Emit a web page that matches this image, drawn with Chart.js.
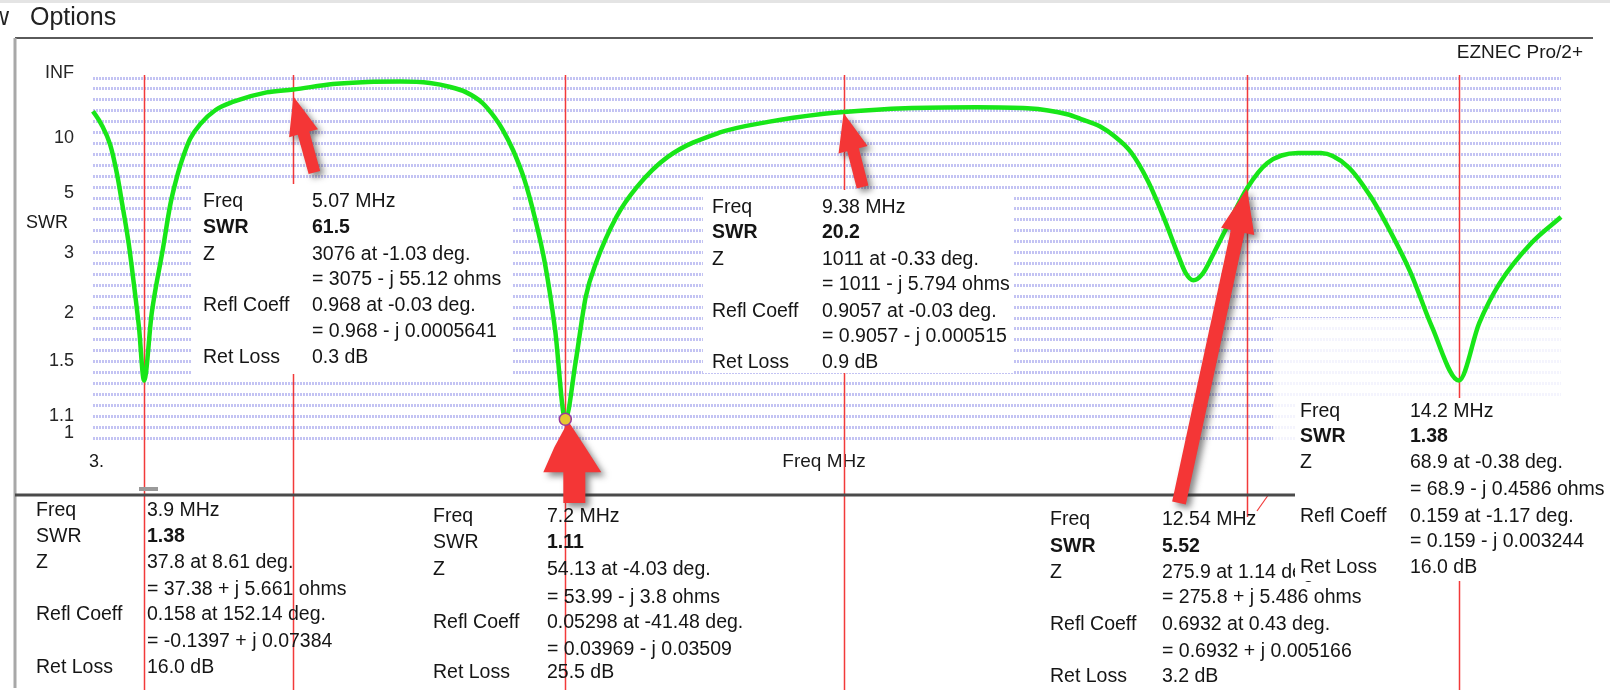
<!DOCTYPE html>
<html><head><meta charset="utf-8">
<script src="https://cdn.jsdelivr.net/npm/chart.js@4.4.1/dist/chart.umd.min.js"></script>
<style>html,body{margin:0;padding:0;background:#fff;overflow:hidden}canvas{display:block}</style>
</head><body>
<canvas id="c" width="1610" height="690"></canvas>
<script>
// ---- data ----
const freqMHz = [3.50,3.565,3.635,3.69,3.73,3.78,3.82,3.86,3.90,3.96,4.05,4.105,4.145,4.185,4.225,4.26,4.34,4.46,4.60,4.86,5.07,5.38,5.65,5.91,6.14,6.30,6.42,6.55,6.65,6.71,6.79,6.88,6.96,7.04,7.12,7.20,7.28,7.36,7.44,7.60,7.76,8.00,8.40,8.80,9.21,9.38,9.86,10.42,10.82,11.14,11.24,11.39,11.50,11.63,11.76,11.89,12.00,12.06,12.12,12.19,12.28,12.41,12.54,12.70,12.94,13.12,13.33,13.51,13.67,13.82,13.99,14.20,14.36,14.52,14.77,15.00];
const swr     = [20.7,14.6,9.75,6.4,4.67,3.34,2.50,1.89,1.38,2.06,3.26,4.67,5.86,7.28,9.0,10.8,14.6,21.5,29.4,49,61.5,117,179,200,141,79,50,28,17,12.9,9.0,6.07,4.18,2.89,1.86,1.11,1.53,2.29,2.89,4.18,5.6,8.1,12.1,15.5,19.0,20.2,22.8,23.6,22.8,18.7,16.5,13.85,11.4,8.73,6.06,4.14,3.07,2.69,2.56,2.67,3.11,4.07,5.52,7.47,8.6,8.6,7.13,5.06,3.64,2.71,1.89,1.38,1.94,2.51,3.37,4.18];
const swrTicks = [1, 1.1, 1.5, 2, 3, 5, 10, Infinity];
const swrTickLabels = ['1','1.1','1.5','2','3','5','10','INF'];
const markerFreqs = [3.9, 5.07, 7.2, 9.38, 12.54, 14.2];
const markerSwr = [1.38, 61.5, 1.11, 20.2, 5.52, 1.38];
const infoLabels = ['Freq','SWR','Z','','Refl Coeff','','Ret Loss'];
const info390  = ['3.9 MHz','1.38','37.8 at 8.61 deg.','= 37.38 + j 5.661 ohms','0.158 at 152.14 deg.','= -0.1397 + j 0.07384','16.0 dB'];
const info507  = ['5.07 MHz','61.5','3076 at -1.03 deg.','= 3075 - j 55.12 ohms','0.968 at -0.03 deg.','= 0.968 - j 0.0005641','0.3 dB'];
const info720  = ['7.2 MHz','1.11','54.13 at -4.03 deg.','= 53.99 - j 3.8 ohms','0.05298 at -41.48 deg.','= 0.03969 - j 0.03509','25.5 dB'];
const info938  = ['9.38 MHz','20.2','1011 at -0.33 deg.','= 1011 - j 5.794 ohms','0.9057 at -0.03 deg.','= 0.9057 - j 0.000515','0.9 dB'];
const info1254 = ['12.54 MHz','5.52','275.9 at 1.14 deg.','= 275.8 + j 5.486 ohms','0.6932 at 0.43 deg.','= 0.6932 + j 0.005166','3.2 dB'];
const info1420 = ['14.2 MHz','1.38','68.9 at -0.38 deg.','= 68.9 - j 0.4586 ohms','0.159 at -1.17 deg.','= 0.159 - j 0.003244','16.0 dB'];

function rho(s){ return s === Infinity ? 1 : (s - 1) / (s + 1); }

const FONT = '"Liberation Sans", Arial, sans-serif';
const RED = '#f23a3a';

function arrow(ctx, x1, y1, x2, y2, sw, hw, hl){
  const dx = x2 - x1, dy = y2 - y1, L = Math.hypot(dx, dy), ux = dx / L, uy = dy / L, px = -uy, py = ux;
  const bx = x2 - ux * hl, by = y2 - uy * hl;
  ctx.beginPath();
  ctx.moveTo(x1 + px * sw / 2, y1 + py * sw / 2);
  ctx.lineTo(bx + px * sw / 2, by + py * sw / 2);
  ctx.lineTo(bx + px * hw / 2, by + py * hw / 2);
  ctx.lineTo(x2, y2);
  ctx.lineTo(bx - px * hw / 2, by - py * hw / 2);
  ctx.lineTo(bx - px * sw / 2, by - py * sw / 2);
  ctx.lineTo(x1 - px * sw / 2, y1 - py * sw / 2);
  ctx.closePath();
  ctx.fill();
}

function infoBox(ctx, lx, vx, rows, values, boldLabel){
  ctx.textBaseline = 'middle';
  ctx.textAlign = 'left';
  ctx.fillStyle = '#151515';
  for (let i = 0; i < infoLabels.length; i++){
    ctx.font = (i === 1 && boldLabel ? 'bold ' : '') + '19.5px ' + FONT;
    if (infoLabels[i]) ctx.fillText(infoLabels[i], lx, rows[i]);
    ctx.font = (i === 1 ? 'bold ' : '') + '19.5px ' + FONT;
    ctx.fillText(values[i], vx, rows[i]);
  }
}

const deco = {
  id: 'deco',
  beforeDraw(chart){
    const ctx = chart.ctx;
    ctx.save();
    ctx.fillStyle = '#fff'; ctx.fillRect(0, 0, 1610, 690);
    ctx.fillStyle = '#e4e4e4'; ctx.fillRect(0, 0, 1610, 3);
    ctx.fillStyle = '#222'; ctx.font = '25px ' + FONT; ctx.textBaseline = 'alphabetic';
    ctx.fillText('w', -9, 25);
    ctx.fillText('Options', 30, 25);
    // frame
    ctx.strokeStyle = '#5a5a5a'; ctx.lineWidth = 2;
    ctx.beginPath(); ctx.moveTo(15, 38); ctx.lineTo(1593, 38); ctx.stroke();
    ctx.strokeStyle = '#a8a8a8'; ctx.lineWidth = 3;
    ctx.beginPath(); ctx.moveTo(15, 38); ctx.lineTo(15, 688); ctx.stroke();
    // texts
    ctx.fillStyle = '#1a1a1a'; ctx.textBaseline = 'middle';
    ctx.font = '19px ' + FONT; ctx.textAlign = 'right';
    ctx.fillText('EZNEC Pro/2+', 1583, 53);
    ctx.textAlign = 'center'; ctx.font = '18px ' + FONT;
    ctx.fillText('SWR', 47, 223);
    ctx.font = '19px ' + FONT;
    ctx.fillText('Freq MHz', 824, 462);
    ctx.textAlign = 'left'; ctx.font = '18px ' + FONT;
    ctx.fillText('3.', 89, 462);
    ctx.restore();
  },
  beforeDatasetsDraw(chart){
    const ctx = chart.ctx, xs = chart.scales.x;
    ctx.save();
    // faded grid region
    ctx.fillStyle = 'rgba(255,255,255,0.82)';
    ctx.fillRect(1273, 318, 290, 124);
    // marker lines
    ctx.strokeStyle = RED; ctx.lineWidth = 1.5;
    markerFreqs.forEach((f, i) => {
      const x = Math.round(xs.getPixelForValue(f)) + 0.5;
      ctx.beginPath(); ctx.moveTo(x, 75); ctx.lineTo(x, f === 12.54 ? 517 : 690); ctx.stroke();
    });
    // small red tick near 12.54
    const x1254 = xs.getPixelForValue(12.54);
    ctx.lineWidth = 1.2;
    ctx.beginPath(); ctx.moveTo(x1254 + 10, 511); ctx.lineTo(x1254 + 22, 494); ctx.stroke();
    // white info backgrounds
    ctx.fillStyle = '#fff';
    ctx.fillRect(192, 184, 321, 190);
    ctx.fillRect(703, 190, 310, 183);
    // separator
    ctx.strokeStyle = '#4a4a4a'; ctx.lineWidth = 3;
    ctx.beginPath(); ctx.moveTo(15, 495); ctx.lineTo(1297, 495); ctx.stroke();
    ctx.fillStyle = '#9a9a9a'; ctx.fillRect(139, 487, 19, 4);
    ctx.restore();
  },
  afterDatasetDraw(chart, args){
    if (args.index !== 0) return;
    const ctx = chart.ctx, xs = chart.scales.x, ys = chart.scales.y;
    ctx.save();
    ctx.fillStyle = '#f43636';
    ctx.shadowColor = 'rgba(40,40,40,0.55)'; ctx.shadowBlur = 6; ctx.shadowOffsetX = 4; ctx.shadowOffsetY = 4;
    // arrow to 5.07
    let tx = xs.getPixelForValue(5.07), ty = ys.getPixelForValue(rho(61.5)) + 7;
    arrow(ctx, tx + 21, ty + 76, tx, ty, 12, 30, 38);
    // arrow to 9.38
    tx = xs.getPixelForValue(9.38); ty = ys.getPixelForValue(rho(20.2)) + 1;
    arrow(ctx, tx + 19, ty + 74, tx, ty, 12, 30, 38);
    // arrow to 12.54
    tx = xs.getPixelForValue(12.54); ty = ys.getPixelForValue(rho(5.52));
    arrow(ctx, tx - 68, 503, tx, ty, 14, 34, 44);
    // up arrow to 7.2
    tx = xs.getPixelForValue(7.2) + 3; ty = ys.getPixelForValue(rho(1.11)) + 2;
    ctx.beginPath();
    ctx.moveTo(tx, ty);
    ctx.lineTo(tx + 17, ty + 26);
    ctx.lineTo(tx + 33, ty + 51);
    ctx.lineTo(tx + 17, ty + 51);
    ctx.lineTo(tx + 17, 503);
    ctx.lineTo(tx - 5, 503);
    ctx.lineTo(tx - 5, ty + 51);
    ctx.lineTo(tx - 25, ty + 51);
    ctx.lineTo(tx - 14, ty + 26);
    ctx.closePath(); ctx.fill();
    ctx.restore();
  },
  afterDraw(chart){
    const ctx = chart.ctx;
    ctx.save();
    infoBox(ctx, 203, 312, [202,228,255,280,306,332,358], info507, true);
    infoBox(ctx, 712, 822, [208,233,260,285,312,337,363], info938, true);
    infoBox(ctx, 36, 147, [511,537,563,590,615,642,668], info390, false);
    infoBox(ctx, 433, 547, [517,543,570,598,623,650,673], info720, false);
    infoBox(ctx, 1050, 1162, [520,547,573,598,625,652,677], info1254, true);
    ctx.fillStyle = '#fff';
    ctx.fillRect(1295, 398, 315, 183);
    infoBox(ctx, 1300, 1410, [412,437,463,490,517,542,568], info1420, true);
    ctx.restore();
  }
};

new Chart(document.getElementById('c'), {
  type: 'line',
  data: {
    datasets: [
      {
        data: freqMHz.map((f, i) => ({x: f, y: rho(swr[i])})),
        borderColor: '#18e618', borderWidth: 4.5, pointRadius: 0,
        cubicInterpolationMode: 'monotone', order: 2, clip: false
      },
      {
        data: [{x: markerFreqs[2], y: rho(markerSwr[2])}],
        showLine: false, pointRadius: 6, pointBackgroundColor: '#e6c830',
        pointBorderColor: '#9a3a9a', pointBorderWidth: 1.5, order: 1
      }
    ]
  },
  options: {
    responsive: false, animation: false, devicePixelRatio: 1,
    layout: {padding: {left: 0, top: 78, right: 49, bottom: 252}},
    plugins: {legend: {display: false}, tooltip: {enabled: false}},
    scales: {
      x: {type: 'linear', min: 3.5, max: 15.0, display: false},
      y: {
        type: 'linear', min: 0, max: 1, position: 'left',
        grid: {display: false}, border: {display: false},
        afterBuildTicks: s => { s.ticks = swrTicks.map(v => ({value: rho(v)})); },
        afterFit: s => { s.width = 93; },
        ticks: {
          autoSkip: false, padding: 11, labelOffset: -5, color: '#262626',
          font: {size: 18, family: FONT},
          callback: (v, i) => swrTickLabels[i]
        }
      },
      yGrid: {
        type: 'linear', min: 0, max: 1, position: 'left',
        afterBuildTicks: s => { s.ticks = Array.from({length: 34}, (_, i) => ({value: i / 33})); },
        afterFit: s => { s.width = 0; },
        ticks: {display: false},
        grid: {color: 'rgba(170,170,238,0.7)', lineWidth: 3, drawTicks: false},
        border: {display: false, dash: [2, 1]}
      }
    }
  },
  plugins: [deco]
});
</script>
</body></html>
